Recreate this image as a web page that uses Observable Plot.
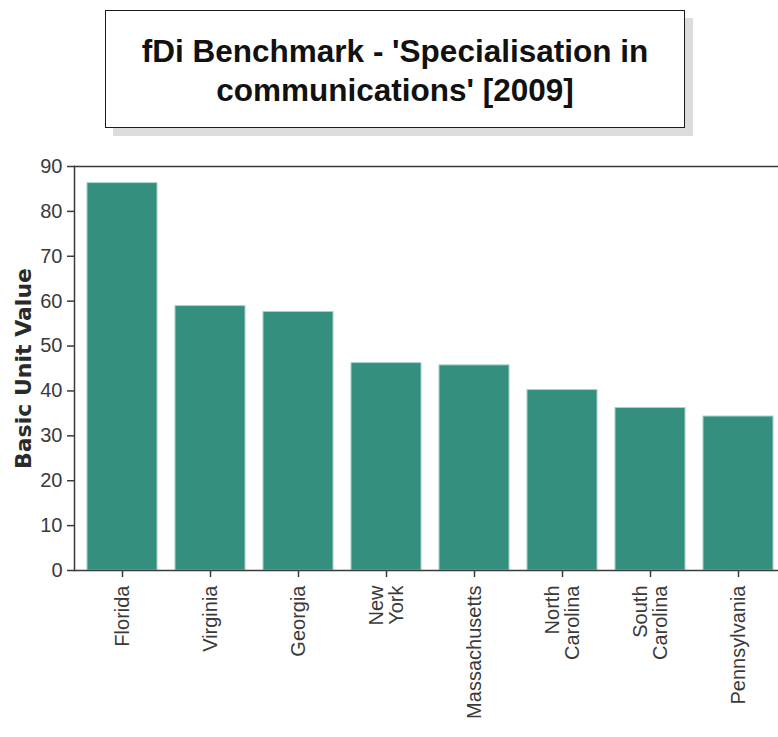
<!DOCTYPE html>
<html>
<head>
<meta charset="utf-8">
<script src="https://cdn.jsdelivr.net/npm/d3@7"></script>
<script src="https://cdn.jsdelivr.net/npm/@observablehq/plot@0.6"></script>
<style>
  html, body { margin: 0; padding: 0; background: #fff; overflow: hidden; }
  #wrap { position: relative; width: 778px; height: 737px; }
  #chart { position: absolute; left: 0; top: 0; }
  #title {
    position: absolute; left: 105px; top: 10px; width: 578px; height: 116px;
    border: 1.5px solid #1a1a1a; background: #fff;
    box-shadow: 8px 8px 0 #dcdcdc;
    font-family: "Liberation Sans", Arial, sans-serif; font-weight: bold;
    font-size: 31.5px; line-height: 39px; color: #111; text-align: center;
    box-sizing: content-box; padding-top: 0;
  }
  #title div { position: relative; top: 21px; }
</style>
</head>
<body>
<div id="wrap">
  <div id="chart"></div>
  <div id="title"><div>fDi Benchmark - 'Specialisation in<br>communications' [2009]</div></div>
</div>
<script>
const states = ["Florida", "Virginia", "Georgia", "New York", "Massachusetts", "North Carolina", "South Carolina", "Pennsylvania"];
const labels = ["Florida", "Virginia", "Georgia", "New\nYork", "Massachusetts", "North\nCarolina", "South\nCarolina", "Pennsylvania"];
const values = [86.3, 58.9, 57.6, 46.2, 45.7, 40.2, 36.2, 34.3];
const yTicks = [0, 10, 20, 30, 40, 50, 60, 70, 80, 90];
const yTitle = "Basic Unit Value";

const data = states.map((s, i) => ({state: s, value: values[i]}));
const labelOf = new Map(states.map((s, i) => [s, labels[i]]));

const chart = Plot.plot({
  width: 778,
  height: 737,
  marginTop: 166,
  marginBottom: 167,
  marginLeft: 74,
  marginRight: 0,
  style: {fontFamily: "'Liberation Sans', Arial, sans-serif", background: "transparent", overflow: "visible"},
  x: {domain: states, range: [74, 785.5], paddingInner: 0.21, paddingOuter: 0.105},
  y: {domain: [0, 90], range: [570, 166]},
  marks: [
    Plot.barY(data, {x: "state", y: "value", fill: "#358f7e", stroke: "#a3d4ca", strokeWidth: 1}),
    Plot.ruleY([0, 90], {stroke: "#3a3a3a", strokeWidth: 1.5}),
    Plot.frame({anchor: "left", stroke: "#3a3a3a", strokeWidth: 1.5}),
    Plot.axisY({ticks: yTicks, tickSize: 7, tickPadding: 5, fontSize: 20, label: null, color: "#3a3a3a", stroke: "#3a3a3a", strokeWidth: 1.5}),
    Plot.axisX({tickRotate: -90, tickSize: 7, tickPadding: 8, fontSize: 20, label: null, tickFormat: d => labelOf.get(d), color: "#3a3a3a", stroke: "#3a3a3a", strokeWidth: 1.5}),
    Plot.text([yTitle], {frameAnchor: "left", dx: -51, rotate: -90, text: d => d, textAnchor: "middle", lineAnchor: "middle", fontSize: 22, fontWeight: "bold", fontFamily: "'DejaVu Sans', Verdana, sans-serif", fill: "#2a2a2a"})
  ]
});
document.getElementById("chart").appendChild(chart);
</script>
</body>
</html>
